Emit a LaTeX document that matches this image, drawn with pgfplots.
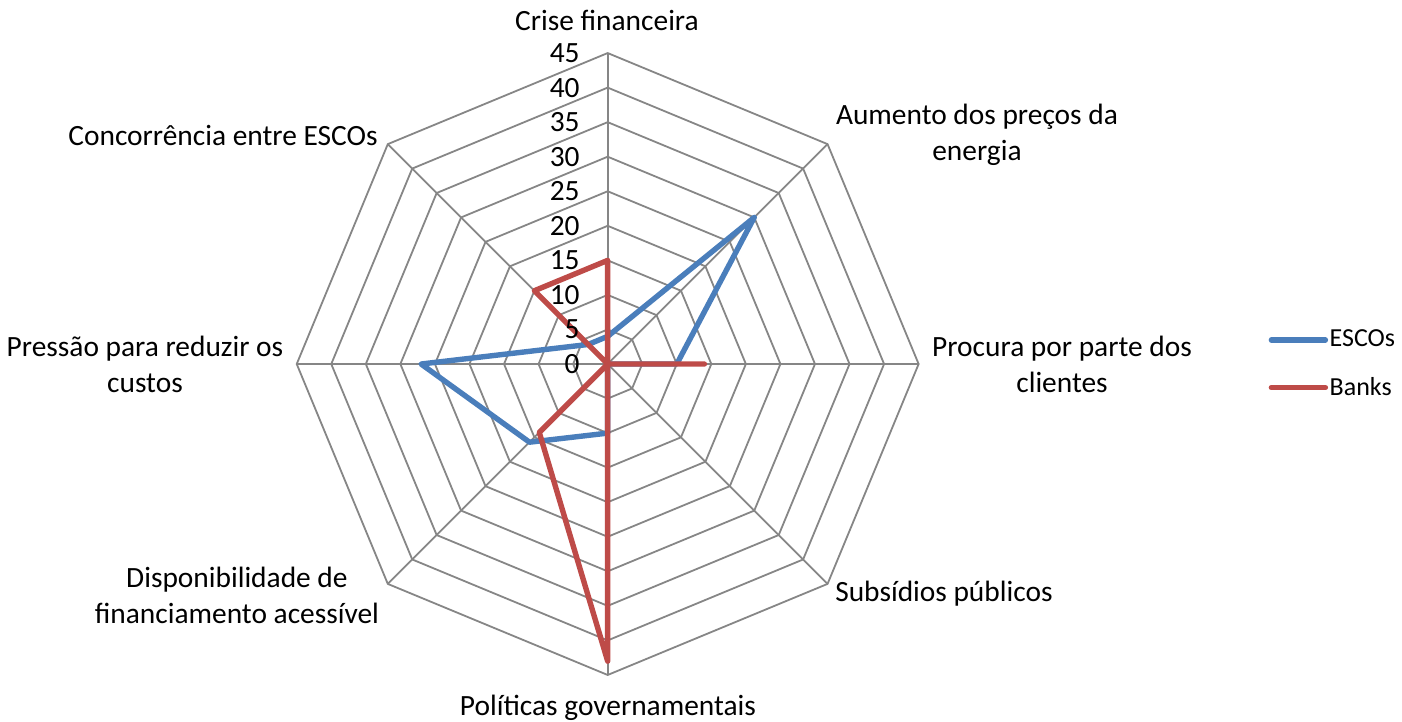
\documentclass[border=0pt]{standalone}
\usepackage{fontspec}
\setmainfont{Carlito}
\usepackage{pgfplots}
\pgfplotsset{compat=1.18}
\definecolor{escos}{HTML}{4A7EBB}
\definecolor{banks}{HTML}{BE4B48}
\definecolor{gridgray}{HTML}{868686}
\begin{document}
\begin{tikzpicture}
\begin{axis}[name=ax,
  x=3.455pt, y=3.455pt,
  xmin=-87.94, xmax=114.95, ymin=-51.66, ymax=52.68,
  hide axis, clip=false,
  font=\fontsize{14.7}{18}\selectfont,
  legend style={at={(axis cs:95.6,0)}, anchor=west, draw=none, fill=none,
    inner sep=0pt, row sep=12pt, nodes={inner sep=0.8pt},
    font=\fontsize{13}{16}\selectfont},
  legend cell align=left,
  legend image code/.code={\draw[#1, line cap=round] (0pt,0pt) -- (27pt,0pt);},
]
% grid rings
\pgfplotsinvokeforeach{5,10,15,20,25,30,35,40,45}{
  \addplot[gridgray, line width=0.9pt, data cs=polar, forget plot]
    coordinates {(90,#1) (45,#1) (0,#1) (-45,#1) (-90,#1) (-135,#1) (180,#1) (135,#1)} -- cycle;
}
% spokes
\pgfplotsinvokeforeach{90,45,0,-45,-90,-135,180,135}{
  \addplot[gridgray, line width=0.9pt, data cs=polar, forget plot]
    coordinates {(#1,0) (#1,45)};
}
% ESCOs
\addplot[escos, line width=2.7pt, line join=round, data cs=polar]
  coordinates {(90,4) (45,30) (0,10) (-45,0) (-90,10) (-135,16) (180,27) (135,4)} -- cycle;
% Banks
\addplot[banks, line width=2.7pt, line join=round, data cs=polar]
  coordinates {(90,15) (45,0) (0,14) (-45,0) (-90,43) (-135,14) (180,0) (135,15)} -- cycle;
\legend{ESCOs, Banks}
% radial tick labels
\pgfplotsinvokeforeach{0,5,10,15,20,25,30,35,40,45}{
  \node[anchor=east, inner sep=0pt] at (axis cs:-4.0,#1) {#1};
}
% category labels
\node[align=center] at (axis cs:-0.1,49.78) {Crise financeira};
\node[align=center] at (axis cs:53.44,33.14) {Aumento dos preços da\\energia};
\node[align=center] at (axis cs:65.75,0) {Procura por parte dos\\clientes};
\node[align=center] at (axis cs:48.67,-33.2) {Subsídios públicos};
\node[align=center] at (axis cs:0.04,-49.7) {Políticas governamentais};
\node[align=center] at (axis cs:-53.65,-33.43) {Disponibilidade de\\financiamento acessível};
\node[align=center] at (axis cs:-66.96,0) {Pressão para reduzir os\\custos};
\node[align=center] at (axis cs:-55.67,33.0) {Concorrência entre ESCOs};
\end{axis}
\pgfresetboundingbox
\path (ax.south west) rectangle (ax.north east);
\end{tikzpicture}
\end{document}
